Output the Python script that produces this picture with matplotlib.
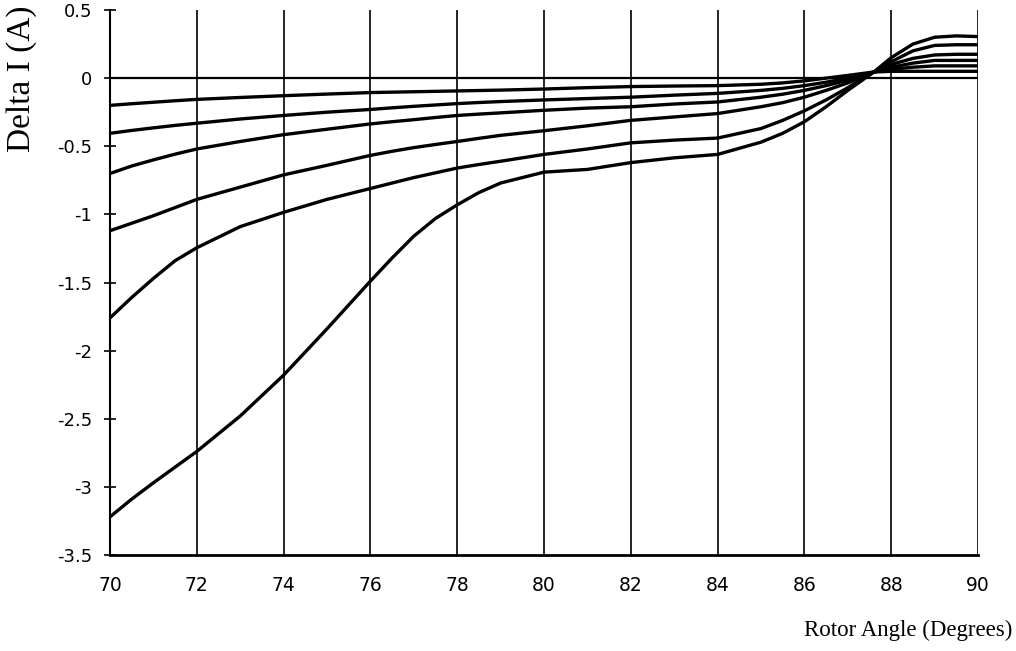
import matplotlib
matplotlib.use("Agg")
import matplotlib.pyplot as plt

plt.rcParams['axes.unicode_minus'] = False

# Rotor angle sample points (degrees)
angle = [70, 70.5, 71, 71.5, 72, 73, 74, 75, 76, 76.5, 77, 77.5, 78, 78.5, 79, 80, 81, 82, 83, 84,
         85, 85.5, 86, 86.5, 87, 87.6, 88, 88.5, 89, 89.5, 90]

# Delta I (A) curves, from smallest to largest deviation
curve_a = [-0.20, -0.188, -0.177, -0.166, -0.156, -0.142, -0.129, -0.117, -0.106, -0.103, -0.10,
           -0.097, -0.094, -0.091, -0.088, -0.08, -0.07, -0.062, -0.058, -0.055,
           -0.045, -0.035, -0.02, 0.0, 0.02, 0.045, 0.05, 0.05, 0.05, 0.05, 0.05]
curve_b = [-0.405, -0.384, -0.365, -0.347, -0.331, -0.30, -0.274, -0.25, -0.23, -0.218, -0.207,
           -0.197, -0.187, -0.179, -0.172, -0.16, -0.15, -0.14, -0.125, -0.112,
           -0.09, -0.075, -0.055, -0.03, 0.0, 0.045, 0.065, 0.08, 0.09, 0.09, 0.09]
curve_c = [-0.70, -0.645, -0.60, -0.558, -0.52, -0.465, -0.415, -0.375, -0.336, -0.32, -0.305,
           -0.289, -0.274, -0.264, -0.255, -0.236, -0.22, -0.21, -0.19, -0.175,
           -0.14, -0.118, -0.09, -0.055, -0.015, 0.045, 0.08, 0.11, 0.13, 0.13, 0.13]
curve_d = [-1.12, -1.065, -1.01, -0.95, -0.89, -0.80, -0.71, -0.64, -0.567, -0.537, -0.51,
           -0.487, -0.465, -0.442, -0.42, -0.386, -0.35, -0.31, -0.285, -0.26,
           -0.21, -0.18, -0.14, -0.09, -0.035, 0.045, 0.10, 0.145, 0.17, 0.175, 0.175]
curve_e = [-1.76, -1.61, -1.47, -1.34, -1.245, -1.09, -0.985, -0.89, -0.81, -0.77, -0.73,
           -0.695, -0.66, -0.634, -0.61, -0.56, -0.52, -0.475, -0.455, -0.44,
           -0.37, -0.31, -0.24, -0.16, -0.07, 0.045, 0.12, 0.20, 0.24, 0.245, 0.245]
curve_f = [-3.22, -3.09, -2.97, -2.855, -2.74, -2.48, -2.18, -1.84, -1.49, -1.32, -1.16,
           -1.03, -0.93, -0.84, -0.77, -0.69, -0.67, -0.62, -0.585, -0.56,
           -0.47, -0.405, -0.32, -0.21, -0.09, 0.045, 0.15, 0.25, 0.30, 0.31, 0.305]

curves = [curve_a, curve_b, curve_c, curve_d, curve_e, curve_f]

x_ticks = [70, 72, 74, 76, 78, 80, 82, 84, 86, 88, 90]
y_ticks = [0.5, 0, -0.5, -1, -1.5, -2, -2.5, -3, -3.5]
y_tick_labels = ['0.5', '0', '-0.5', '-1', '-1.5', '-2', '-2.5', '-3', '-3.5']

fig = plt.figure(figsize=(10.16, 6.51), dpi=100)
ax = fig.add_axes([110/1016, 96/651, 868/1016, 545/651])

ax.set_xlim(70, 90)
ax.set_ylim(-3.5, 0.5)

for xv in x_ticks[1:]:
    ax.axvline(xv, color='black', lw=1.2, zorder=1)
ax.axhline(0, color='black', lw=1.6, zorder=2)

for c in curves:
    ax.plot(angle, c, color='black', lw=2.4, solid_joinstyle='round',
            solid_capstyle='round', zorder=3)

for s in ['top', 'right']:
    ax.spines[s].set_visible(False)
ax.spines['left'].set_linewidth(1.5)
ax.spines['bottom'].set_linewidth(2.0)

ax.set_xticks(x_ticks)
ax.set_xticklabels([str(v) for v in x_ticks])
ax.set_yticks(y_ticks)
ax.set_yticklabels(y_tick_labels)
ax.tick_params(axis='x', length=0, pad=15, labelsize=13.5)
ax.tick_params(axis='y', direction='inout', length=8, width=1.2, pad=9, labelsize=13)
for lbl in ax.get_xticklabels() + ax.get_yticklabels():
    lbl.set_family('DejaVu Sans')

fig.text(22/1016, 1 - 79/651, 'Delta I (A)', rotation=90, ha='center', va='center',
         family='Liberation Serif', fontsize=24)
fig.text(1012/1016, 1 - 630/651, 'Rotor Angle (Degrees)', ha='right', va='center',
         family='Liberation Serif', fontsize=16.5)

fig.savefig('out.png', dpi=100, facecolor='white')
